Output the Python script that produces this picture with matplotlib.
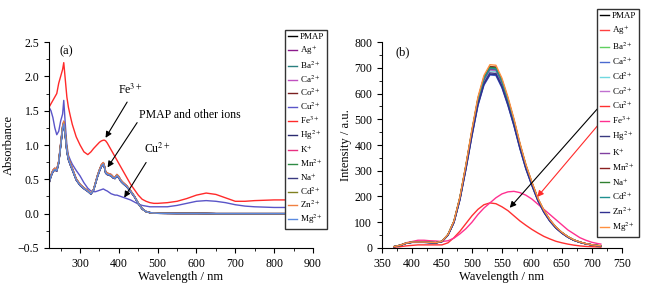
import numpy as np
import matplotlib
matplotlib.use("Agg")
import matplotlib.pyplot as plt
from matplotlib.ticker import MultipleLocator

plt.rcParams["font.family"] = ["Liberation Serif", "DejaVu Serif"]
plt.rcParams["mathtext.fontset"] = "stix"

# ---- (a) absorbance data ----
wl_abs = [220, 225, 230, 235, 240, 245, 250, 255, 258, 262, 266, 270, 275, 280, 290,
          300, 310, 320, 328, 335, 340, 345, 350, 355, 360, 363, 366, 370, 375, 380,
          385, 390, 395, 400, 405, 410, 420, 430, 440, 450, 460, 470, 480, 490, 500,
          525, 550, 575, 600, 625, 650, 675, 700, 725, 750, 800, 850]
abs_pmap = [0.45, 0.55, 0.62, 0.65, 0.63, 0.75, 1.00, 1.25, 1.32, 1.15, 0.92, 0.80, 0.72, 0.65, 0.50,
            0.42, 0.37, 0.33, 0.29, 0.35, 0.45, 0.55, 0.63, 0.70, 0.73, 0.68, 0.60, 0.58, 0.57, 0.56,
            0.53, 0.52, 0.56, 0.53, 0.48, 0.45, 0.40, 0.33, 0.25, 0.15, 0.07, 0.03, 0.015, 0.01, 0.005,
            0.004, 0.003, 0.003, 0.003, 0.002, 0.0, 0.0, 0.0, 0.0, 0.0, 0.0, 0.0]
abs_fe = [1.55, 1.60, 1.65, 1.70, 1.75, 1.90, 2.00, 2.10, 2.20, 1.95, 1.70, 1.55, 1.42, 1.30, 1.12,
          1.00, 0.90, 0.86, 0.90, 0.95, 0.98, 1.01, 1.04, 1.06, 1.07, 1.07, 1.06, 1.03, 0.98, 0.93,
          0.88, 0.83, 0.78, 0.73, 0.68, 0.63, 0.53, 0.43, 0.35, 0.27, 0.21, 0.18, 0.16, 0.15, 0.15,
          0.16, 0.18, 0.22, 0.27, 0.30, 0.28, 0.23, 0.18, 0.18, 0.19, 0.20, 0.20]
abs_cu = [1.55, 1.50, 1.40, 1.25, 1.15, 1.20, 1.35, 1.45, 1.65, 1.30, 1.00, 0.85, 0.78, 0.72, 0.63,
          0.55, 0.45, 0.37, 0.33, 0.32, 0.32, 0.33, 0.34, 0.35, 0.36, 0.35, 0.34, 0.33, 0.31, 0.29,
          0.28, 0.27, 0.27, 0.26, 0.25, 0.24, 0.22, 0.20, 0.17, 0.14, 0.12, 0.11, 0.10, 0.10, 0.10,
          0.10, 0.12, 0.15, 0.18, 0.19, 0.18, 0.16, 0.13, 0.11, 0.10, 0.09, 0.09]

ions_a = ["PMAP", "Ag$^{+}$", "Ba$^{2+}$", "Ca$^{2+}$", "Co$^{2+}$", "Cu$^{2+}$", "Fe$^{3+}$",
          "Hg$^{2+}$", "K$^{+}$", "Mn$^{2+}$", "Na$^{+}$", "Cd$^{2+}$", "Zn$^{2+}$", "Mg$^{2+}$"]
colors_a = ["#000000", "#8b1a8b", "#2a7f7f", "#c050c0", "#7a1f1f", "#5a55c8", "#ff2a2a",
            "#2a2a70", "#e83080", "#2e8b45", "#3a3a80", "#808020", "#f08040", "#5a8ae0"]
# relative height of the overlapping curves (read at the 258 nm peak)
scale_a = [1.00, 1.02, 0.99, 1.01, 0.98, None, None, 1.00, 0.99, 1.00, 0.98, 1.01, 1.02, 0.99]

# ---- (b) fluorescence data ----
wl_fl = [370, 380, 390, 400, 410, 420, 430, 440, 450, 460, 470, 480, 490, 500, 510, 520, 530,
         540, 550, 560, 570, 580, 590, 600, 610, 620, 630, 640, 650, 660, 670, 680, 690, 700,
         710, 715]
fl_pmap = [5, 10, 18, 22, 22, 22, 21, 20, 25, 50, 100, 190, 310, 440, 560, 640, 680,
           678, 630, 560, 480, 390, 310, 245, 185, 140, 105, 78, 58, 42, 30, 22, 16, 12,
           9, 8]
fl_fe = [5, 10, 20, 25, 30, 30, 28, 27, 25, 28, 38, 55, 75, 100, 130, 155, 175,
         195, 210, 218, 220, 215, 205, 190, 170, 150, 130, 110, 90, 70, 55, 40, 30, 22,
         17, 15]
fl_cu = [3, 5, 8, 10, 12, 12, 12, 12, 12, 20, 40, 65, 95, 125, 150, 168, 175,
         172, 160, 145, 125, 105, 88, 72, 58, 45, 35, 26, 20, 15, 11, 8, 6, 5,
         4, 3]

ions_b = ["PMAP", "Ag$^{+}$", "Ba$^{2+}$", "Ca$^{2+}$", "Cd$^{2+}$", "Co$^{2+}$", "Cu$^{2+}$",
          "Fe$^{3+}$", "Hg$^{2+}$", "K$^{+}$", "Mn$^{2+}$", "Na$^{+}$", "Cd$^{2+}$", "Zn$^{2+}$",
          "Mg$^{2+}$"]
colors_b = ["#000000", "#ff4040", "#60d060", "#4a6ad0", "#70d8e0", "#c070d0", "#ff3030",
            "#ff3090", "#3a3a80", "#8040a0", "#8a2020", "#308030", "#209090", "#303090",
            "#ff9040"]
# peak heights of the overlapping curves near 533 nm
peak_b = [695, 690, 700, 672, 688, 692, None, None, 680, 695, 705, 702, 698, 675, 712]

fig = plt.figure(figsize=(6.5, 2.88), dpi=100)
ax1 = fig.add_axes([0.0754, 0.139, 0.406, 0.715])
ax2 = fig.add_axes([0.5877, 0.139, 0.369, 0.715])

wa = np.array(wl_abs)
for name, col, s in zip(ions_a, colors_a, scale_a):
    if name.startswith("Fe"):
        y = np.array(abs_fe)
    elif name.startswith("Cu"):
        y = np.array(abs_cu)
    else:
        y = np.array(abs_pmap) * s
    ax1.plot(wa, y, color=col, lw=1.0, label=name)

wf = np.array(wl_fl)
base = np.array(fl_pmap)
for name, col, p in zip(ions_b, colors_b, peak_b):
    if name.startswith("Fe"):
        y = np.array(fl_fe)
    elif name.startswith("Cu"):
        y = np.array(fl_cu)
    else:
        y = base * p / base.max()
    ax2.plot(wf, y, color=col, lw=1.0, label=name)

for ax in (ax1, ax2):
    ax.spines["top"].set_visible(False)
    ax.spines["right"].set_visible(False)
    ax.tick_params(which="both", direction="out", labelsize=8.5)
    ax.tick_params(which="major", length=3.5)
    ax.tick_params(which="minor", length=2)
    ax.set_xlabel("Wavelength / nm", fontsize=9, labelpad=1)

ax1.set_xlim(220, 900)
ax1.set_ylim(-0.5, 2.5)
ax1.xaxis.set_major_locator(MultipleLocator(100))
ax1.xaxis.set_minor_locator(MultipleLocator(50))
ax1.yaxis.set_major_locator(MultipleLocator(0.5))
ax1.yaxis.set_minor_locator(MultipleLocator(0.25))
ax1.set_ylabel("Absorbance", fontsize=9, labelpad=2)

ax2.set_xlim(350, 750)
ax2.set_ylim(0, 800)
ax2.xaxis.set_major_locator(MultipleLocator(50))
ax2.xaxis.set_minor_locator(MultipleLocator(25))
ax2.yaxis.set_major_locator(MultipleLocator(100))
ax2.yaxis.set_minor_locator(MultipleLocator(50))
ax2.set_ylabel("Intensity / a.u.", fontsize=9, labelpad=2)

ax1.text(264, 2.36, "(a)", fontsize=9, ha="center", va="center")
ax2.text(385, 760, "(b)", fontsize=9, ha="center", va="center")

arr = dict(arrowstyle="-|>", color="black", lw=0.8, mutation_scale=9)
ax1.annotate("", xy=(362, 1.07), xytext=(425, 1.66), arrowprops=arr)
ax1.text(428, 1.70, "Fe$^{3+}$", fontsize=8.5, ha="center", va="bottom")
ax1.annotate("", xy=(367, 0.64), xytext=(451, 1.36), arrowprops=arr)
ax1.text(451, 1.44, "PMAP and other ions", fontsize=8.5, ha="left", va="center")
ax1.annotate("", xy=(410, 0.2), xytext=(474, 0.78), arrowprops=arr)
ax1.text(466, 0.84, "Cu$^{2+}$", fontsize=8.5, ha="left", va="bottom")

ax2.annotate("", xy=(560, 148), xytext=(712, 548), arrowprops=arr, annotation_clip=False)
arr_r = dict(arrowstyle="-|>", color="#ff2a2a", lw=0.8, mutation_scale=9)
ax2.annotate("", xy=(606, 190), xytext=(712, 482), arrowprops=arr_r, annotation_clip=False)

leg_kw = dict(fontsize=6.5, handlelength=1.0, handletextpad=0.3, borderpad=0.35,
              fancybox=False, framealpha=1, edgecolor="#333333", borderaxespad=0)
leg1 = ax1.legend(loc="upper left", bbox_to_anchor=(0.438, 1 - 30 / 288),
                  bbox_transform=fig.transFigure, labelspacing=0.26, **leg_kw)
leg1.get_frame().set_linewidth(1.0)
leg2 = ax2.legend(loc="upper left", bbox_to_anchor=(0.918, 1 - 9 / 288),
                  bbox_transform=fig.transFigure, labelspacing=0.38, **leg_kw)
leg2.get_frame().set_linewidth(1.0)

fig.savefig("out.png", dpi=100)
